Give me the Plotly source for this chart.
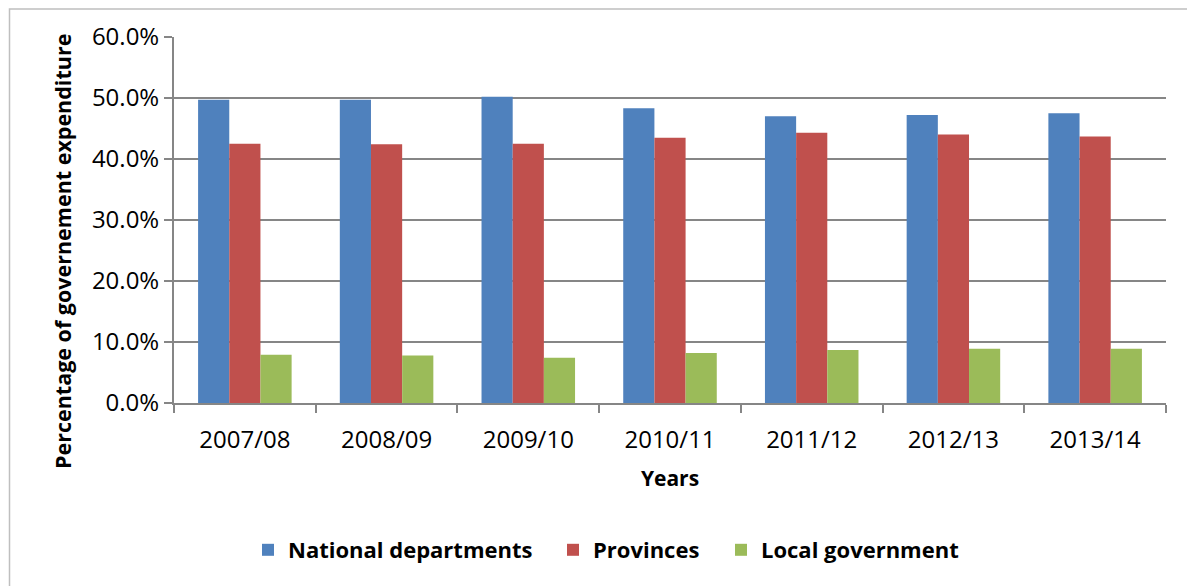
import plotly.graph_objects as go

years = ["2007/08", "2008/09", "2009/10", "2010/11", "2011/12", "2012/13", "2013/14"]
national = [49.7, 49.7, 50.2, 48.3, 47.0, 47.2, 47.5]
provinces = [42.5, 42.4, 42.5, 43.5, 44.3, 44.0, 43.7]
local_gov = [7.9, 7.8, 7.4, 8.2, 8.7, 8.9, 8.9]

series_names = ["National departments", "Provinces", "Local government"]
colors = ["#4F81BD", "#C0504D", "#9BBB59"]

# page body has an 8px margin; lay the figure out in window pixels minus that offset
OFF = 8
W, H = 1195 - OFF, 586 - OFF
L, R, T, B = 174 - OFF, 1195 - 1166, 37 - OFF, 586 - 403
pw = W - L - R
ph = H - T - B

def px_x(p):
    return (p - OFF - L) / pw

def px_y(p):
    return (H - B - (p - OFF)) / ph

font = "Open Sans, Liberation Sans, sans-serif"
grid = "#868686"

legend_ids = ["legend", "legend2", "legend3"]
legend_left = [248, 553, 721]

fig = go.Figure()
for name, vals, c, lid in zip(series_names, [national, provinces, local_gov], colors, legend_ids):
    fig.add_trace(go.Bar(x=years, y=vals, name=name, legend=lid,
                         marker=dict(color=c, line=dict(width=0))))

legend_layout = {}
for lid, lx in zip(legend_ids, legend_left):
    legend_layout[lid] = dict(orientation="h", x=px_x(lx), xanchor="left", y=px_y(550), yanchor="middle",
                              font=dict(family=font, size=22, color="black", weight="bold"),
                              bgcolor="rgba(0,0,0,0)")

fig.update_layout(
    width=W, height=H,
    margin=dict(l=L, r=R, t=T, b=B, autoexpand=False),
    paper_bgcolor="white", plot_bgcolor="white",
    barmode="group", bargap=0.34, bargroupgap=0,
    font=dict(family=font, color="black", size=21),
    showlegend=True,
    xaxis=dict(
        automargin=False,
        showline=True, linecolor=grid, linewidth=2,
        ticks="outside", tickson="boundaries", ticklen=8, tickcolor=grid, tickwidth=2,
        tickfont=dict(family=font, size=24, color="black"),
        ticklabelstandoff=14,
        title=dict(text="Years", font=dict(family=font, size=21, color="black", weight="bold"), standoff=18),
    ),
    yaxis=dict(
        automargin=False,
        range=[0, 60], dtick=10, tickformat=".1f", ticksuffix="%",
        showline=True, linecolor=grid, linewidth=2,
        showgrid=True, gridcolor=grid, gridwidth=2,
        ticks="outside", ticklen=8, tickcolor=grid, tickwidth=2,
        tickfont=dict(family=font, size=24, color="black"),
        zeroline=False,
    ),
    annotations=[dict(text="<b>Percentage of governement expenditure</b>", textangle=-90,
                      xref="paper", yref="paper", x=px_x(62), y=px_y(252),
                      xanchor="center", yanchor="middle", showarrow=False,
                      font=dict(family=font, size=21.5, color="black"))],
    shapes=[dict(type="rect", xref="paper", yref="paper",
                 x0=px_x(9.5), x1=px_x(1193), y0=px_y(600), y1=px_y(9),
                 line=dict(color="#BFBFBF", width=1.5), fillcolor="rgba(0,0,0,0)", layer="below")],
    **legend_layout,
)

fig.write_html("out.html")
